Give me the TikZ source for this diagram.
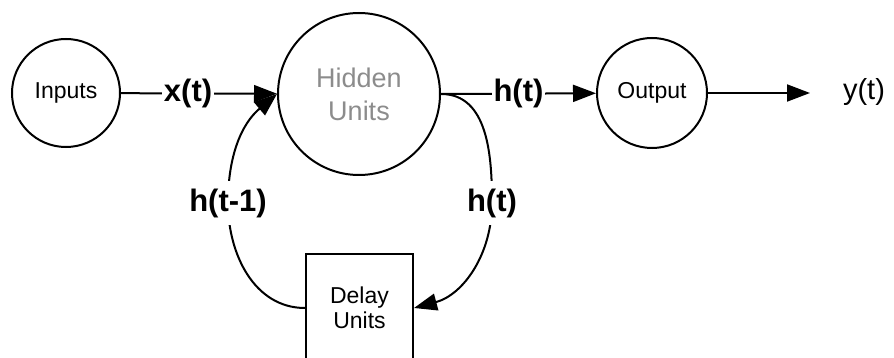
\documentclass[tikz,border=0pt]{standalone}
\usepackage{fontspec}
\setmainfont{Liberation Sans}
\usetikzlibrary{arrows.meta}
\begin{document}
\begin{tikzpicture}[x=1pt,y=-1pt,
  unit/.style={circle,draw,line width=2pt,inner sep=0pt,align=center,
    font=\fontsize{23}{26}\selectfont},
  delaybox/.style={rectangle,draw,line width=2pt,inner sep=0pt,align=center,
    minimum width=107pt,minimum height=108pt,font=\fontsize{23}{25}\selectfont},
  link/.style={line width=2pt},
  flow/.style={link,-{Triangle[length=23pt,width=17pt]}},
  sig/.style={fill=white,inner xsep=2pt,inner ysep=8pt,
    font=\fontsize{31}{34}\selectfont\bfseries},
]
\useasboundingbox (0,0) rectangle (894,358);

% main units
\node[unit,minimum size=108pt] (in) at (66,93) {Inputs};
\node[unit,minimum size=162pt,font=\fontsize{27}{33}\selectfont,text=black!45]
  (hid) at (359,94) {Hidden\\Units};
\node[unit,minimum size=110pt] (out) at (652,93) {Output};
\node[delaybox] (dly) at (359.5,308) {Delay\\Units};

% network output
\node[font=\fontsize{29}{32}\selectfont] (y) at (864,92) {y(t)};
\coordinate (ytip) at (810,93);

% forward path
\draw[flow] (in) -- node[sig,pos=0.43] {x(t)} (hid);
\draw[flow] (hid.east) -- node[sig,pos=0.5] {h(t)} (out);
\draw[flow] (out) -- (ytip);

% recurrent loop through the delay units
\coordinate (rgt) at (492,203);
\coordinate (lft) at (228,203);
\draw[flow] (hid.east) to[out=0,in=90] (rgt) to[out=-90,in=15] (dly.east);
\draw[flow] (dly.west) to[out=180,in=-90] (lft) to[out=90,in=-140] (hid.west);
\node[sig] (hr) at (rgt) {h(t)};
\node[sig] (hl) at (lft) {h(t-1)};
\end{tikzpicture}
\end{document}
